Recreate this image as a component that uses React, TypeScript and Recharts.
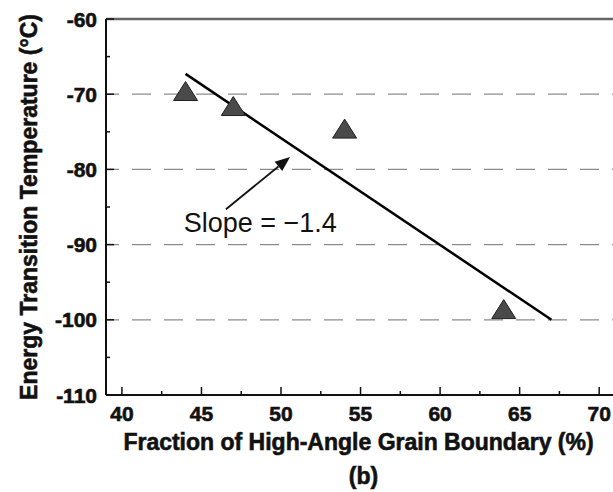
import {
  ComposedChart,
  Label,
  Line,
  ReferenceDot,
  ReferenceLine,
  Scatter,
  XAxis,
  YAxis,
} from "recharts";

const FONT = "'Liberation Sans', Arial, Helvetica, sans-serif";

// measured points (fraction %, transition temp °C)
const fractionHAGB = [44, 47, 54, 64];
const transitionTemp = [-70, -72, -75, -99];

// linear fit drawn across the data range
const fitX = [44, 67];
const fitY = [-67.3, -100];

const xTicks = [40, 42.5, 45, 47.5, 50, 52.5, 55, 57.5, 60, 62.5, 65, 67.5, 70];
const yTicks = [-110, -105, -100, -95, -90, -85, -80, -75, -70, -65, -60];
const gridValues = [-70, -80, -90, -100];

// annotation anchors, in data units
const arrowFrom = { x: 46.54, y: -85.3 };
const arrowTo = { x: 50.57, y: -78.35 };
const slopeText = { x: 48.7, y: -87.05, text: "Slope = \u22121.4" };

const points = fractionHAGB.map((x, i) => ({ x, y: transitionTemp[i] }));
const fit = fitX.map((x, i) => ({ x, y: fitY[i] }));

// heavier look for the bold scanned-style labels
const heavy = { stroke: "#111", strokeWidth: 0.6 };

const XTick = (props: any) => {
  const { x, y, payload } = props;
  const major = payload.value % 5 === 0;
  return (
    <g>
      <line x1={x} x2={x} y1={y} y2={y - (major ? 8 : 4)} stroke="#111" strokeWidth={1.5} />
      {major && (
        <text x={x} y={y + 26} textAnchor="middle" fontSize={21} fontWeight="bold" fill="#111" fontFamily={FONT} {...heavy}>
          {payload.value}
        </text>
      )}
    </g>
  );
};

const YTick = (props: any) => {
  const { x, y, payload } = props;
  const major = payload.value % 10 === 0;
  return (
    <g>
      <line x1={x} x2={x + (major ? 8 : 4)} y1={y} y2={y} stroke="#111" strokeWidth={1.5} />
      {major && (
        <text x={x - 9} y={y + 7.5} textAnchor="end" fontSize={21} fontWeight="bold" fill="#111" fontFamily={FONT} {...heavy}>
          {payload.value}
        </text>
      )}
    </g>
  );
};

const Triangle = (props: any) => {
  const { cx, cy } = props;
  if (cx == null || cy == null) return null;
  const pts = `${cx},${cy - 12.7} ${cx - 12},${cy + 6.3} ${cx + 12},${cy + 6.3}`;
  return <polygon points={pts} fill="#4a4a4a" stroke="#222" strokeWidth={1} />;
};

const Arrow = (props: any) => {
  const { x1, y1, x2, y2 } = props;
  if ([x1, y1, x2, y2].some((v) => v == null)) return null;
  const dx = x2 - x1;
  const dy = y2 - y1;
  const len = Math.sqrt(dx * dx + dy * dy);
  const ux = dx / len;
  const uy = dy / len;
  const hl = 15;
  const hw = 6;
  const bx = x2 - ux * hl;
  const by = y2 - uy * hl;
  const head = `${x2},${y2} ${bx - uy * hw},${by + ux * hw} ${bx + uy * hw},${by - ux * hw}`;
  return (
    <g>
      <line x1={x1} y1={y1} x2={bx} y2={by} stroke="#111" strokeWidth={1.8} />
      <polygon points={head} fill="#111" />
    </g>
  );
};

export default function App() {
  return (
    <div
      style={{
        position: "absolute",
        left: 0,
        top: 0,
        width: 613,
        height: 492,
        overflow: "hidden",
        background: "#fff",
      }}
    >
      <ComposedChart width={650} height={492} margin={{ top: 19, right: 19, bottom: 0, left: 0 }}>
        <XAxis
          type="number"
          dataKey="x"
          domain={[39, 72]}
          ticks={xTicks}
          interval={0}
          allowDataOverflow
          tickSize={0}
          tickMargin={0}
          tickLine={false}
          tick={<XTick />}
          height={97}
          axisLine={{ stroke: "#111", strokeWidth: 2 }}
        >
          <Label
            value="Fraction of High-Angle Grain Boundary (%)"
            position="insideBottom"
            offset={42}
            dx={-10}
            fontSize={23}
            fontWeight="bold"
            fill="#111"
            fontFamily={FONT}
            {...heavy}
          />
          <Label
            value="(b)"
            position="insideBottom"
            offset={8}
            dx={-5}
            fontSize={23}
            fontWeight="bold"
            fill="#111"
            fontFamily={FONT}
            {...heavy}
          />
        </XAxis>
        <YAxis
          type="number"
          dataKey="y"
          domain={[-110, -60]}
          ticks={yTicks}
          interval={0}
          allowDataOverflow
          tickSize={0}
          tickMargin={0}
          tickLine={false}
          tick={<YTick />}
          width={106}
          axisLine={{ stroke: "#111", strokeWidth: 2 }}
        >
          <Label
            value="Energy Transition Temperature (°C)"
            angle={-90}
            position="insideLeft"
            offset={29}
            fontSize={23}
            fontWeight="bold"
            fill="#111"
            fontFamily={FONT}
            {...heavy}
            style={{ textAnchor: "middle" }}
          />
        </YAxis>
        {gridValues.map((v) => (
          <ReferenceLine
            key={v}
            y={v}
            stroke="#8c8c8c"
            strokeWidth={1.2}
            strokeDasharray="19 13"
            strokeDashoffset={6}
          />
        ))}
        <ReferenceLine y={-60} stroke="#666" strokeWidth={2.5} />
        <ReferenceLine
          segment={[arrowFrom, arrowTo]}
          shape={(p: any) => <Arrow {...p} />}
        />
        <ReferenceDot
          x={slopeText.x}
          y={slopeText.y}
          r={0}
          fill="none"
          stroke="none"
          label={{
            value: slopeText.text,
            position: "center",
            fontSize: 27,
            fill: "#111",
            fontFamily: FONT,
          }}
        />
        <Line
          data={fit}
          dataKey="y"
          type="linear"
          stroke="#000"
          strokeWidth={2.5}
          dot={false}
          activeDot={false}
          isAnimationActive={false}
        />
        <Scatter data={points} dataKey="y" shape={<Triangle />} isAnimationActive={false} />
      </ComposedChart>
    </div>
  );
}
